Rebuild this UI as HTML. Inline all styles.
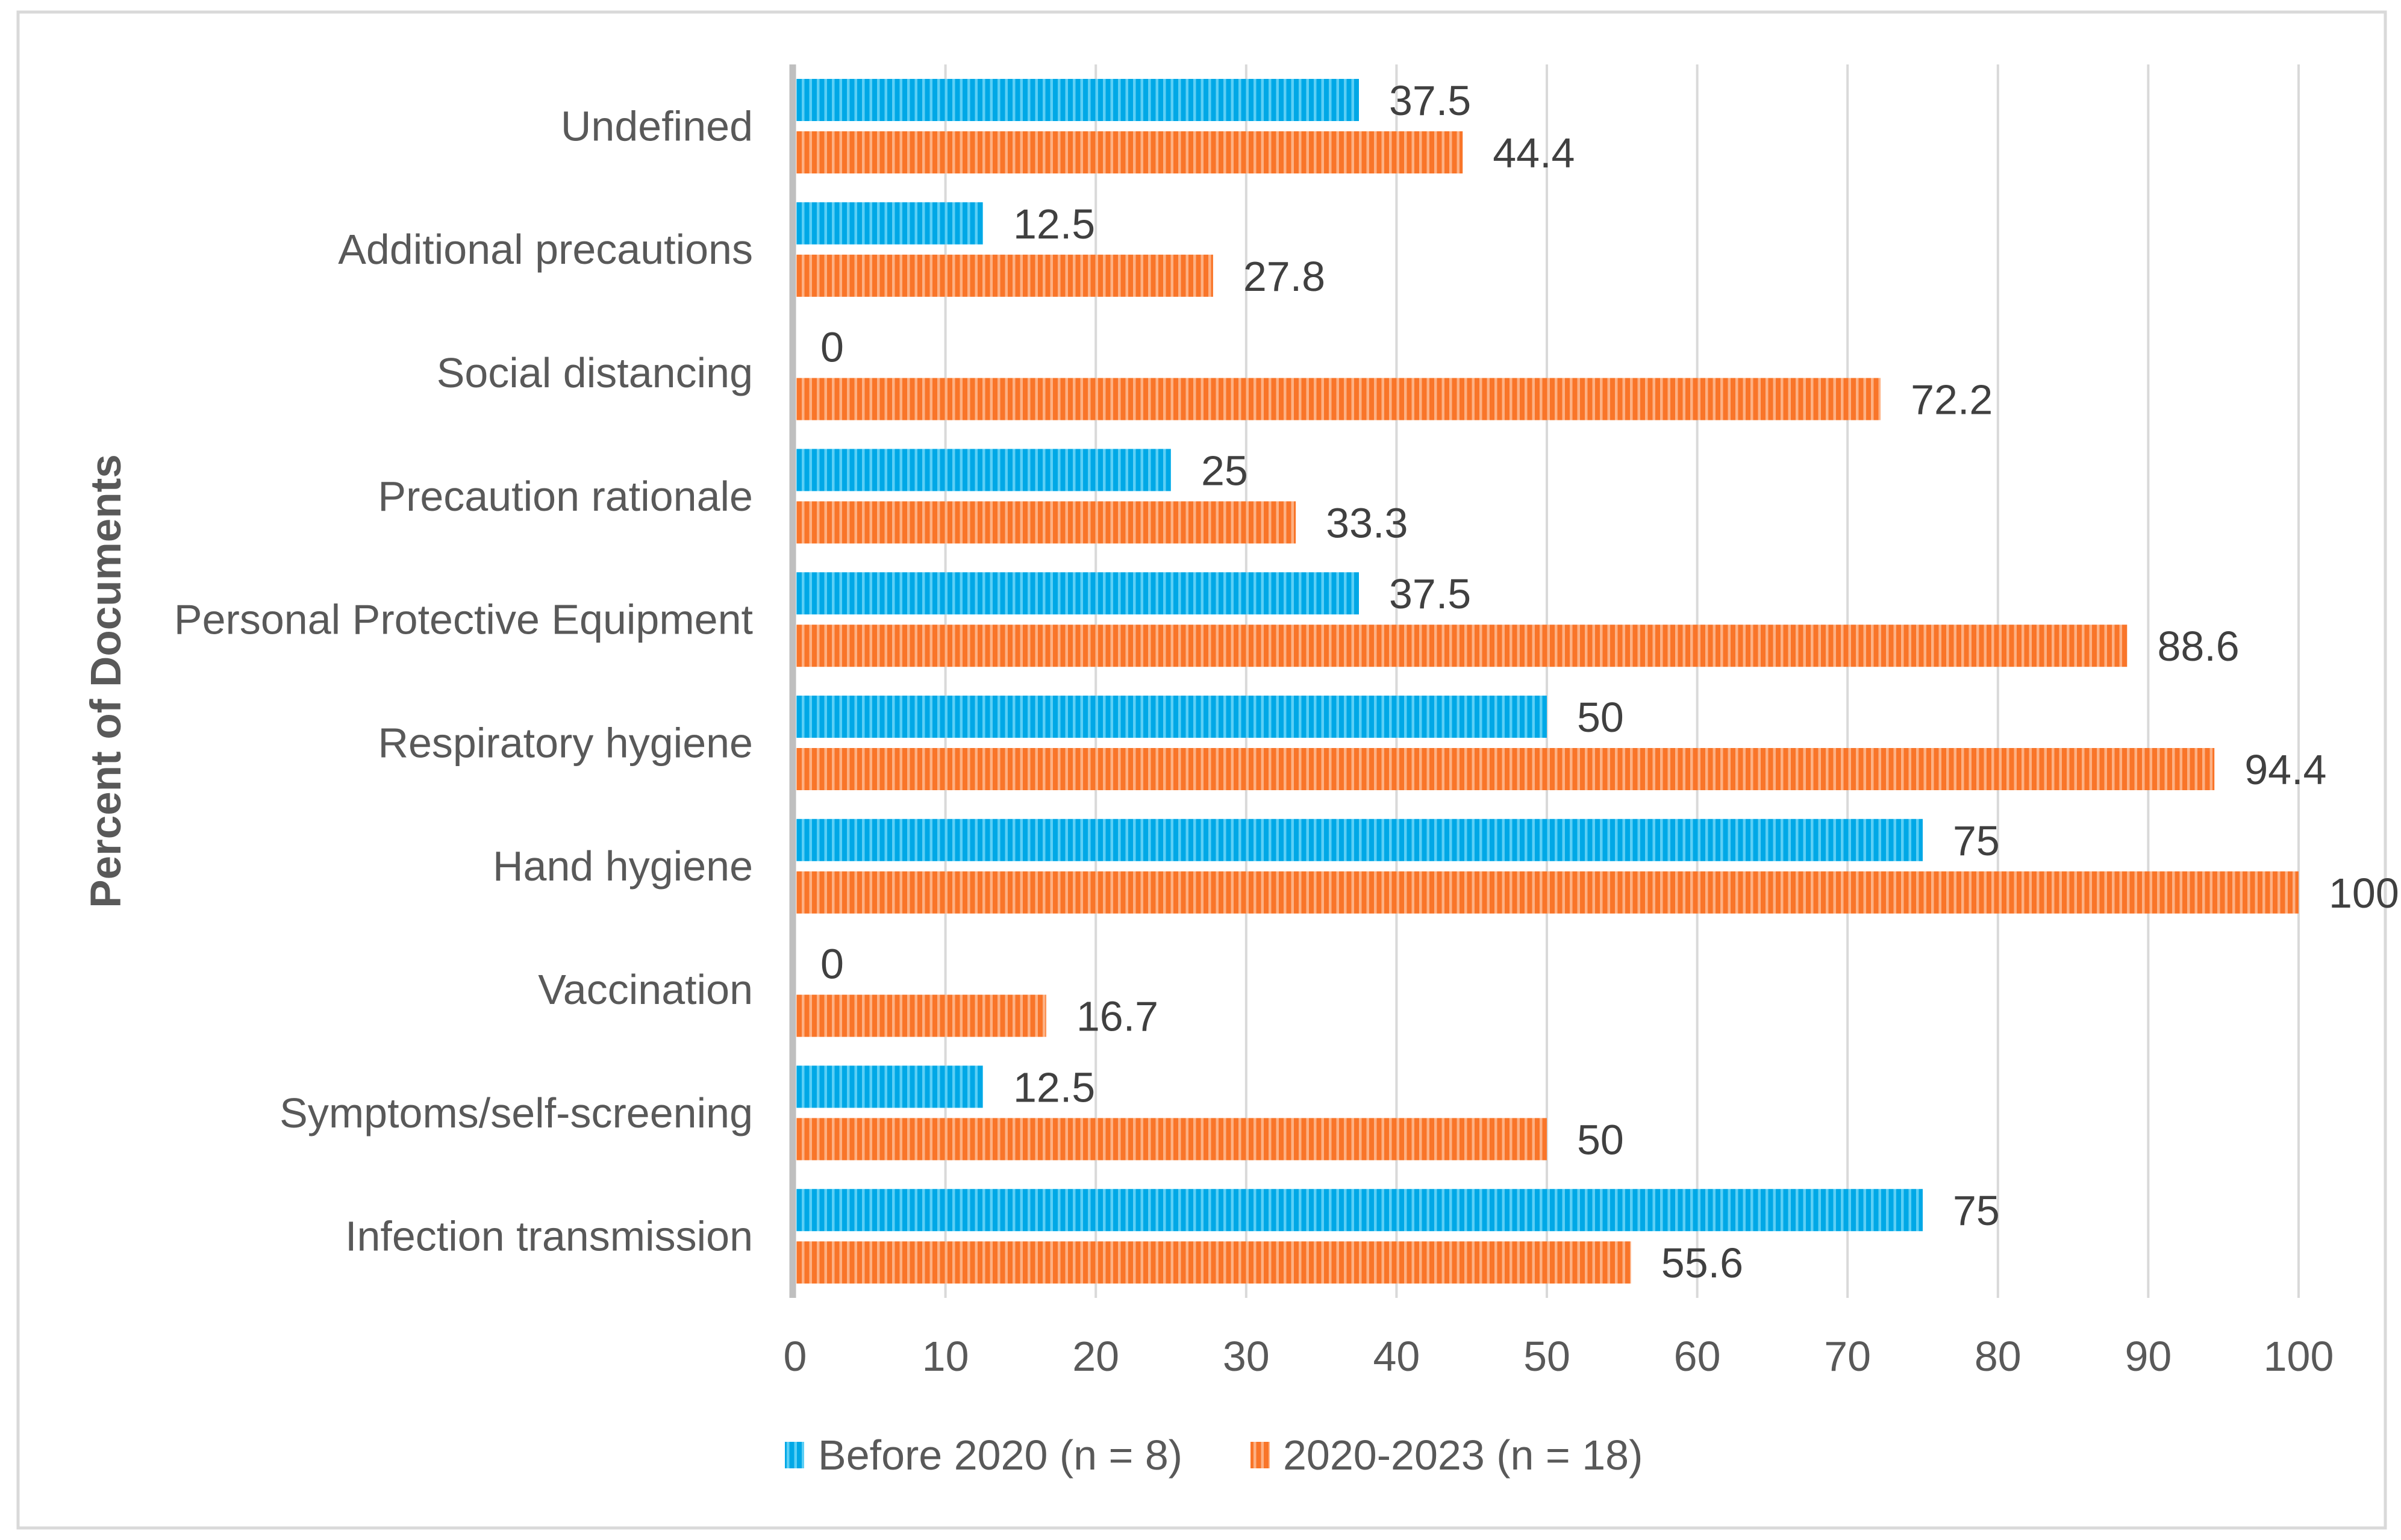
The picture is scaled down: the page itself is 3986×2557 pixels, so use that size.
<!DOCTYPE html>
<html><head><meta charset="utf-8"><style>
html,body{margin:0;padding:0;background:#fff;}
svg{display:block;font-family:"Liberation Sans",sans-serif;}
</style></head><body>
<svg id="chart" width="3986" height="2557" viewBox="0 0 3986 2557" xmlns="http://www.w3.org/2000/svg">
<defs>
<pattern id="pb" width="12.5" height="20" patternUnits="userSpaceOnUse"><rect width="12.5" height="20" fill="#00a8e6"/><rect x="6" width="4.5" height="20" fill="#5ccff5"/></pattern>
<pattern id="po" width="12.5" height="20" patternUnits="userSpaceOnUse"><rect width="12.5" height="20" fill="#f97529"/><rect x="6" width="4.5" height="20" fill="#fdb184"/></pattern>
</defs>
<rect x="30" y="20" width="3930" height="2517" fill="#fff" stroke="#d9d9d9" stroke-width="5"/>
<g id="grid"></g><g id="bars"></g><g id="labels"></g>
<text transform="translate(200,1131) rotate(-90)" text-anchor="middle" font-size="71" font-weight="bold" fill="#595959">Percent of Documents</text>
<g>
<rect x="1303" y="2394" width="32" height="44" fill="url(#pb)"/>
<text x="1358" y="2440" font-size="70" fill="#595959">Before 2020 (n = 8)</text>
<rect x="2076" y="2394" width="32" height="44" fill="url(#po)"/>
<text x="2130" y="2440" font-size="70" fill="#595959">2020-2023 (n = 18)</text>
</g>
</svg>
<script>
const categories = ["Undefined","Additional precautions","Social distancing","Precaution rationale","Personal Protective Equipment","Respiratory hygiene","Hand hygiene","Vaccination","Symptoms/self-screening","Infection transmission"];
const before2020 = [37.5,12.5,0,25,37.5,50,75,0,12.5,75];
const after2020 = [44.4,27.8,72.2,33.3,88.6,94.4,100,16.7,50,55.6];
const xTicks = [0,10,20,30,40,50,60,70,80,90,100];

const NS="http://www.w3.org/2000/svg";
const X0=1320, XS=24.96, TOP=107, BAND=204.8, BOTTOM=TOP+BAND*categories.length;
const xPos=v=>X0+v*XS;
const bandY=i=>TOP+i*BAND;
function mk(tag,attrs,parent){const e=document.createElementNS(NS,tag);for(const k in attrs)e.setAttribute(k,attrs[k]);parent.appendChild(e);return e;}
const grid=document.getElementById('grid'),bars=document.getElementById('bars'),labels=document.getElementById('labels');
xTicks.forEach(t=>{
  if(t>0){const l=mk('line',{x1:xPos(t),x2:xPos(t),y1:TOP,y2:BOTTOM,stroke:'#d9d9d9','stroke-width':4},grid);
  
  }
  const tx=mk('text',{x:xPos(t),y:2276,'text-anchor':'middle','font-size':70,fill:'#595959'},labels);
  tx.textContent=t;
  
  
});
const ax=mk('line',{x1:X0-4,x2:X0-4,y1:TOP,y2:BOTTOM,stroke:'#bfbfbf','stroke-width':11},grid);


categories.forEach((c,i)=>{
  const y=bandY(i);
  const cl=mk('text',{x:1250,y:y+BAND/2+24,'text-anchor':'end','font-size':70,fill:'#595959'},labels);
  cl.textContent=c;
  
  
  [[before2020,'url(#pb)',24,'before-2020'],[after2020,'url(#po)',111,'2020-2023']].forEach(([arr,fill,off,nm])=>{
    const v=arr[i], by=y+off, h=70;
    if(v>0){const r=mk('rect',{x:X0+2,y:by,width:xPos(v)-X0-2,height:h,fill:fill},bars);
    
    }
    const lt=mk('text',{x:xPos(v)+(v>0?50:42),y:by+h/2+25,'font-size':70,fill:'#404040'},labels);
    lt.textContent=v;
    
    
  });
});
</script>
</body></html>
